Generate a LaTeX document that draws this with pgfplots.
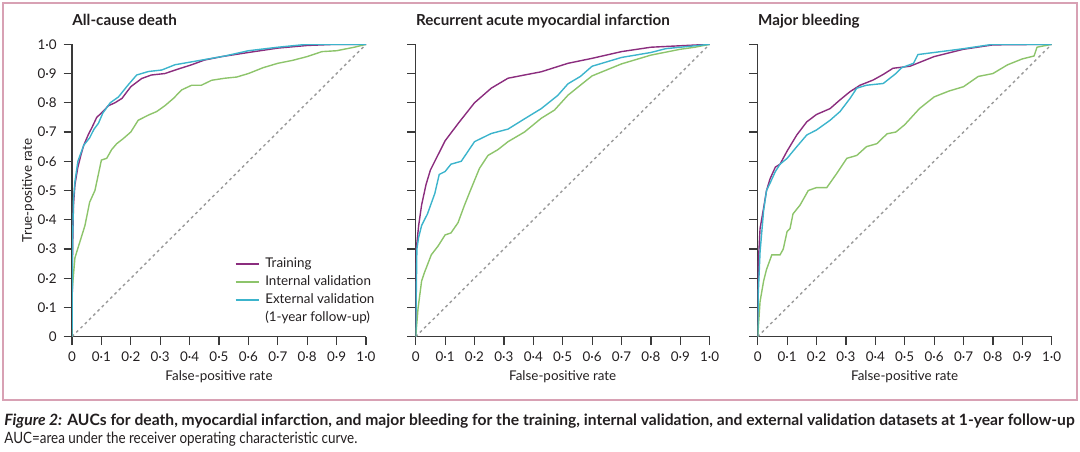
\documentclass[border=0pt]{standalone}
\usepackage{fontspec}
\setmainfont{Lato}
\usepackage{graphicx}
\usepackage{pgfplots}
\pgfplotsset{compat=1.18}
\definecolor{ctrain}{HTML}{8B2D7E}
\definecolor{cint}{HTML}{8DC46B}
\definecolor{cext}{HTML}{3CB4CC}
\definecolor{cframe}{HTML}{D8A1B4}
\definecolor{caxis}{HTML}{3A3A3A}
\definecolor{ctext}{HTML}{231F20}
\newcommand\tfont{\fontsize{6.7}{7.5}\selectfont}
\pgfplotsset{
  rocax/.style={
    scale only axis, width=147pt, height=146.2pt, anchor=south west,
    xmin=0, xmax=1, ymin=0, ymax=1,
    axis x line*=bottom, axis y line*=left,
    axis line style={line width=0.6pt, caxis},
    major tick style={line width=0.6pt, caxis},
    tick align=outside, major tick length=4.2pt,
    xtick={0,0.1,0.2,0.3,0.4,0.5,0.6,0.7,0.8,0.9,1},
    ytick={0,0.1,0.2,0.3,0.4,0.5,0.6,0.7,0.8,0.9,1},
    xticklabels={0,0·1,0·2,0·3,0·4,0·5,0·6,0·7,0·8,0·9,1·0},
    ticklabel style={font=\tfont, text=ctext},
    xlabel={False-positive rate},
    every axis x label/.style={at={(axis description cs:0.5,0)}, yshift=-20pt, anchor=center, font=\tfont, text=ctext},
    every axis y label/.style={at={(axis description cs:0,0.5)}, xshift=-22pt, rotate=90, anchor=center, font=\tfont, text=ctext},
    every axis plot/.append style={line width=0.7pt},
    legend image code/.code={\draw[#1] (0pt,0pt) -- (11.5pt,0pt);},
  },
  diag/.style={gray!80, line width=0.7pt, dash pattern=on 1.4pt off 1.6pt},
}
\begin{document}
\begin{tikzpicture}
\useasboundingbox (0,0) rectangle (540pt,225.5pt);
\draw[cframe, line width=0.6pt] (1.5pt,25.5pt) rectangle (538.5pt,224pt);

% ---------- Panel 1 ----------
\begin{axis}[rocax, name=a1, at={(36pt,57.15pt)},
  yticklabels={0,0·1,0·2,0·3,0·4,0·5,0·6,0·7,0·8,0·9,1·0},
  ylabel={True-positive rate},
  legend cell align=left,
  legend style={draw=none, fill=none, inner sep=0pt, outer sep=0pt,
    at={(0.554,0.279)}, anchor=north west, font=\tfont, text=ctext,
    row sep=0pt, column sep=3pt,
    nodes={inner xsep=0pt, inner ysep=1.25pt, text height=5pt, text depth=1.5pt}},
]
\addplot[diag, forget plot] coordinates {(0,0) (1,1)};
\addplot[ctrain] table {
x y
0 0
0.002 0.30
0.005 0.45
0.01 0.52
0.02 0.58
0.03 0.62
0.04 0.655
0.055 0.69
0.07 0.72
0.084 0.75
0.1 0.765
0.124 0.79
0.146 0.80
0.17 0.815
0.2 0.855
0.237 0.883
0.27 0.895
0.316 0.90
0.36 0.915
0.407 0.93
0.45 0.946
0.51 0.958
0.6 0.972
0.7 0.987
0.8 0.996
0.9 1.0
1 1
};
\addplot[cint] table {
x y
0 0
0.001 0.165
0.01 0.27
0.027 0.325
0.044 0.38
0.06 0.46
0.078 0.50
0.1 0.604
0.118 0.61
0.135 0.64
0.152 0.66
0.175 0.678
0.2 0.70
0.225 0.74
0.26 0.758
0.288 0.77
0.316 0.79
0.345 0.815
0.373 0.844
0.407 0.86
0.44 0.86
0.475 0.877
0.52 0.884
0.56 0.888
0.6 0.90
0.65 0.92
0.7 0.935
0.75 0.945
0.8 0.958
0.85 0.975
0.9 0.978
0.96 0.99
1 1
};
\addplot[cext] table {
x y
0 0
0.002 0.32
0.005 0.47
0.01 0.53
0.02 0.60
0.04 0.655
0.06 0.68
0.075 0.71
0.09 0.73
0.105 0.765
0.13 0.80
0.158 0.82
0.19 0.86
0.22 0.895
0.26 0.907
0.305 0.912
0.35 0.93
0.407 0.94
0.475 0.952
0.52 0.96
0.6 0.978
0.7 0.99
0.8 1.0
1 1
};
\addlegendentry{Training}
\addlegendentry{Internal validation}
\addlegendentry{External validation}
\addlegendimage{empty legend}
\addlegendentry{(1-year follow-up)}
\end{axis}

% ---------- Panel 2 ----------
\begin{axis}[rocax, name=a2, at={(207.85pt,57.15pt)}, yticklabels={,,,,,,,,,,}, yticklabel style={opacity=0}]
\addplot[diag] coordinates {(0,0) (1,1)};
\addplot[ctrain] table {
x y
0 0
0.002 0.30
0.01 0.38
0.02 0.45
0.035 0.52
0.05 0.57
0.07 0.61
0.1 0.67
0.145 0.73
0.2 0.80
0.257 0.85
0.314 0.884
0.37 0.895
0.427 0.906
0.518 0.935
0.6 0.952
0.7 0.975
0.8 0.99
0.9 0.995
1 1
};
\addplot[cint] table {
x y
0 0
0.008 0.097
0.02 0.19
0.03 0.22
0.053 0.28
0.076 0.31
0.1 0.348
0.12 0.355
0.144 0.39
0.166 0.45
0.19 0.51
0.217 0.576
0.246 0.62
0.28 0.64
0.314 0.667
0.37 0.70
0.427 0.747
0.472 0.775
0.518 0.826
0.56 0.86
0.6 0.892
0.7 0.933
0.8 0.963
0.9 0.983
0.95 0.99
1 1
};
\addplot[cext] table {
x y
0 0
0.004 0.30
0.01 0.34
0.02 0.38
0.04 0.42
0.065 0.49
0.08 0.555
0.1 0.565
0.12 0.59
0.155 0.60
0.2 0.667
0.257 0.695
0.314 0.71
0.37 0.745
0.427 0.78
0.483 0.825
0.518 0.865
0.56 0.89
0.6 0.925
0.7 0.955
0.8 0.972
0.85 0.985
0.9 0.99
1 1
};
\end{axis}

% ---------- Panel 3 ----------
\begin{axis}[rocax, name=a3, at={(378.85pt,57.15pt)}, yticklabels={,,,,,,,,,,}, yticklabel style={opacity=0}]
\addplot[diag] coordinates {(0,0) (1,1)};
\addplot[ctrain] table {
x y
0 0
0.002 0.25
0.008 0.37
0.02 0.44
0.03 0.50
0.042 0.54
0.06 0.58
0.076 0.59
0.1 0.635
0.133 0.69
0.167 0.735
0.2 0.76
0.246 0.78
0.28 0.81
0.314 0.838
0.348 0.86
0.393 0.878
0.427 0.897
0.46 0.918
0.518 0.925
0.6 0.958
0.7 0.983
0.8 0.998
1 1
};
\addplot[cint] table {
x y
0 0
0.008 0.12
0.02 0.19
0.03 0.23
0.048 0.28
0.076 0.28
0.087 0.30
0.1 0.36
0.11 0.37
0.12 0.42
0.144 0.45
0.172 0.50
0.2 0.51
0.235 0.51
0.27 0.56
0.303 0.61
0.337 0.62
0.37 0.65
0.405 0.66
0.44 0.694
0.47 0.70
0.5 0.725
0.55 0.78
0.6 0.82
0.65 0.84
0.7 0.855
0.75 0.89
0.8 0.90
0.85 0.93
0.9 0.95
0.94 0.96
0.95 0.99
1 1
};
\addplot[cext] table {
x y
0 0
0.002 0.15
0.008 0.29
0.02 0.43
0.03 0.50
0.042 0.525
0.06 0.565
0.076 0.59
0.1 0.61
0.133 0.65
0.167 0.69
0.2 0.707
0.246 0.74
0.28 0.77
0.314 0.815
0.337 0.85
0.37 0.86
0.427 0.866
0.47 0.90
0.49 0.92
0.53 0.935
0.545 0.965
0.6 0.972
0.7 0.985
0.8 1.0
1 1
};
\end{axis}

% ---------- Titles ----------
\foreach \ax/\t in {a1/All-cause death, a2/Recurrent acute myocardial infarction, a3/Major bleeding}{
  \node[anchor=base west, inner sep=0pt, font=\bfseries\fontsize{7.6}{9}\selectfont, text=ctext]
    at ([yshift=9.4pt]\ax.north west) {\t};
}

% ---------- Caption ----------
\node[anchor=base west, inner sep=0pt, text=ctext] at (2pt,13pt)
  {\resizebox{535pt}{\height}{\fontsize{7.8}{9}\selectfont\bfseries\textit{Figure 2:} AUCs for death, myocardial infarction, and major bleeding for the training, internal validation, and external validation datasets at 1-year follow-up}};
\node[anchor=base west, inner sep=0pt, text=ctext] at (2pt,3.6pt)
  {\resizebox{176.5pt}{\height}{\fontsize{7.8}{9}\selectfont AUC=area under the receiver operating characteristic curve.}};
\end{tikzpicture}
\end{document}
